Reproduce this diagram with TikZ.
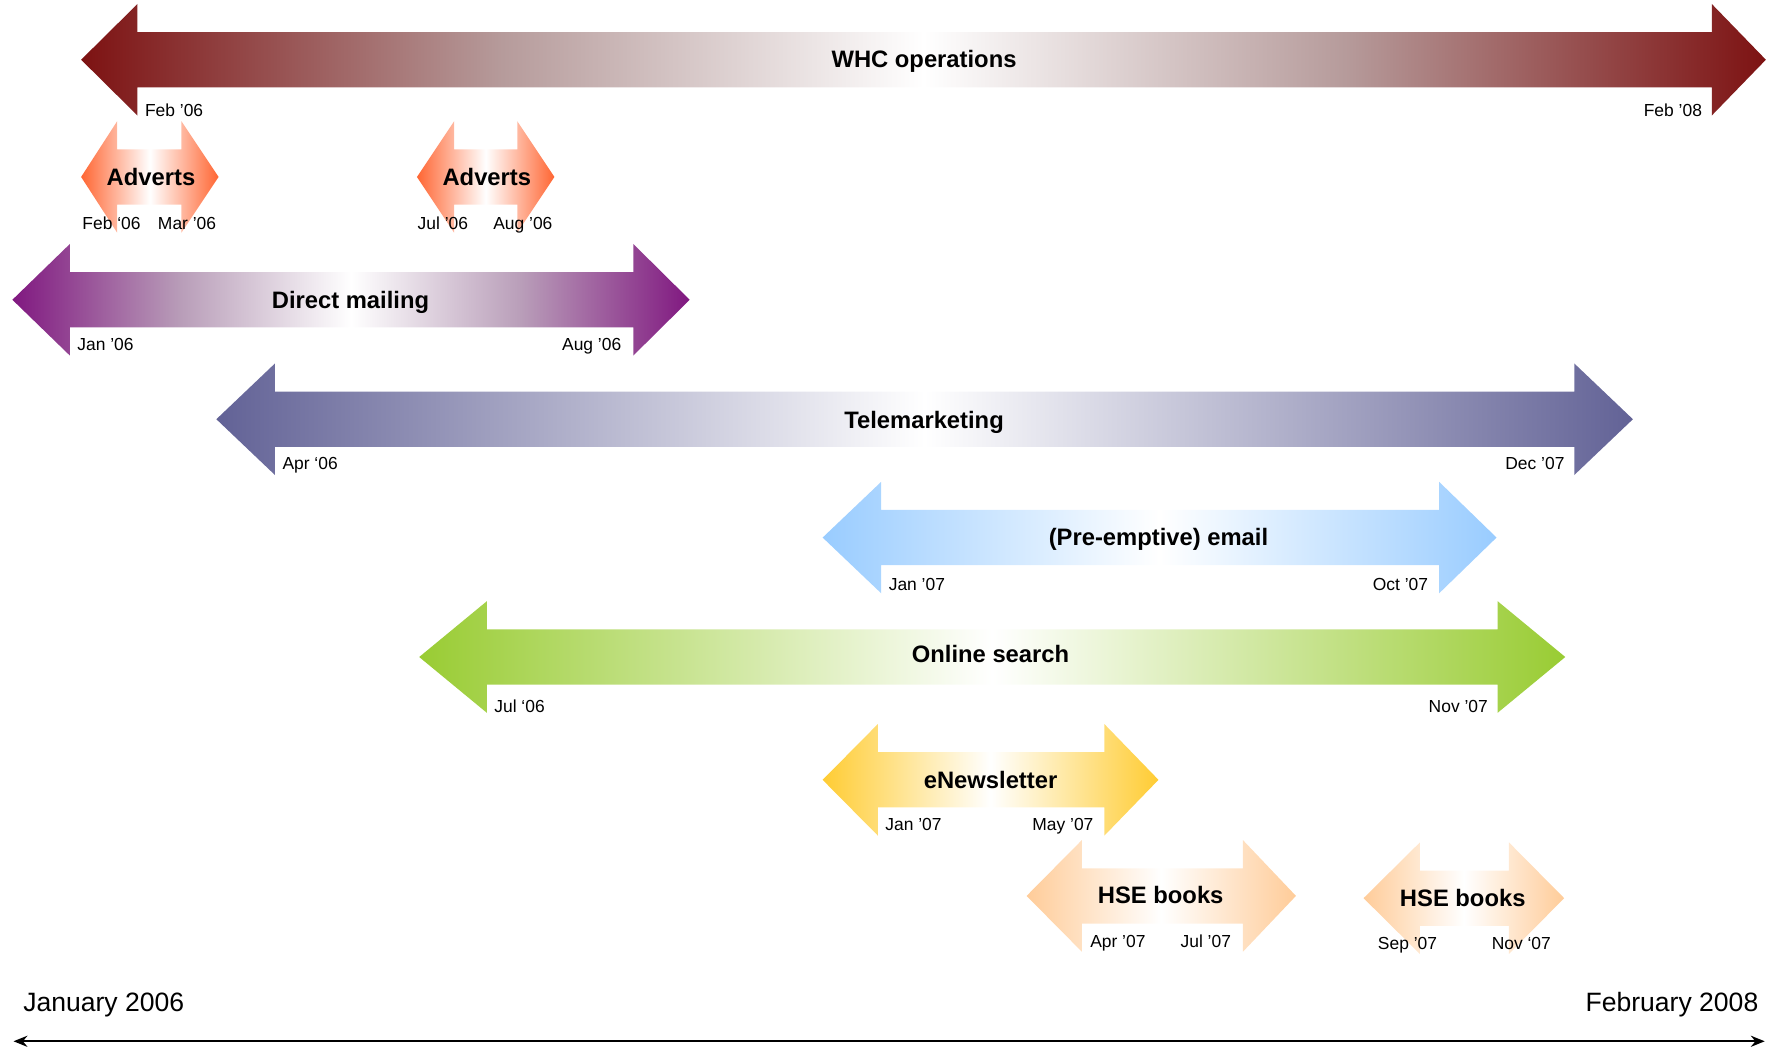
\documentclass[tikz,border=0pt]{standalone}
\usepackage{fontspec}
\setmainfont{Liberation Sans}
\usetikzlibrary{arrows.meta}

\definecolor{whcred}{RGB}{125,18,18}
\definecolor{whcmid}{RGB}{182,155,155}
\definecolor{advorange}{RGB}{255,102,51}
\definecolor{mailpurple}{RGB}{128,24,128}
\definecolor{mailmid}{RGB}{185,158,185}
\definecolor{telblue}{RGB}{98,98,150}
\definecolor{mailblue}{RGB}{153,204,255}
\definecolor{searchgreen}{RGB}{153,204,51}
\definecolor{newsgold}{RGB}{255,204,51}
\definecolor{bookpeach}{RGB}{255,204,153}

% #1 colour, #2 colour half way to the middle,
% #3..#6 left tip, left base, right base, right tip, #7 centre line
\newcommand{\spanarrow}[7]{%
  \pgfdeclarehorizontalshading{span-#1}{100bp}{color(0bp)=(#1); color(25bp)=(#1);
    color(37.5bp)=(#2); color(50bp)=(white); color(62.5bp)=(#2); color(75bp)=(#1); color(100bp)=(#1)}%
  \shade[shading=span-#1]
    (#3,#7) -- (#4,#7-49.5) -- (#4,#7-24.5) -- (#5,#7-24.5) -- (#5,#7-49.5) -- (#6,#7)
    -- (#5,#7+49.5) -- (#5,#7+24.5) -- (#4,#7+24.5) -- (#4,#7+49.5) -- cycle;}

\tikzset{
  title/.style={font=\fontsize{6}{7}\selectfont\bfseries, inner sep=0pt, text height=0.73em, text depth=0.22em},
  date/.style={font=\fontsize{4.4}{5}\selectfont, inner sep=0pt, text height=0.73em, text depth=0.22em},
  year/.style={font=\fontsize{6.7}{8}\selectfont, inner sep=0pt, text height=0.73em, text depth=0.22em}
}

\begin{document}
\begin{tikzpicture}[x=0.01cm, y=-0.01cm]
      \useasboundingbox (0,0) rectangle (1568,932);
      \spanarrow{whcred}{whcmid}{72}{122}{1519}{1567}{53}
      \spanarrow{advorange}{advorange!50!white}{72}{104}{161}{194}{157}
      \spanarrow{advorange}{advorange!50!white}{370}{403}{459}{492}{157}
      \spanarrow{mailpurple}{mailmid}{11}{62}{562}{612}{266}
      \spanarrow{telblue}{telblue!50!white}{192}{244}{1397}{1449}{372}
      \spanarrow{mailblue}{mailblue!50!white}{730}{782}{1277}{1328}{477}
      \spanarrow{searchgreen}{searchgreen!50!white}{372}{432}{1329}{1389}{583}
      \spanarrow{newsgold}{newsgold!50!white}{730}{779}{980}{1028}{692}
      \spanarrow{bookpeach}{bookpeach!50!white}{911}{960}{1103}{1150}{795}
      \spanarrow{bookpeach}{bookpeach!50!white}{1210}{1260}{1339}{1388}{797}
      % campaign names
      \node[title] (whc) at (820,51) {WHC operations};
      \node[title] (adv1) at (134,156) {Adverts};
      \node[title] (adv2) at (432,156) {Adverts};
      \node[title] (mail) at (311,265) {Direct mailing};
      \node[title] (tele) at (820,371) {Telemarketing};
      \node[title] (email) at (1028,475) {(Pre-emptive) email};
      \node[title] (search) at (879,579) {Online search};
      \node[title] (news) at (879,691) {eNewsletter};
      \node[title] (books1) at (1030,793) {HSE books};
      \node[title] (books2) at (1298,795) {HSE books};
      % start and end dates
      \node[date, anchor=west] (whc-s) at (128,94) {Feb '06};
      \node[date, anchor=east] (whc-e) at (1511,94) {Feb '08};
      \node[date] (adv1-s) at (99,195) {Feb `06};
      \node[date] (adv1-e) at (166,195) {Mar '06};
      \node[date] (adv2-s) at (393,195) {Jul '06};
      \node[date] (adv2-e) at (464,195) {Aug '06};
      \node[date, anchor=west] (mail-s) at (68,302) {Jan '06};
      \node[date, anchor=east] (mail-e) at (552,302) {Aug '06};
      \node[date, anchor=west] (tele-s) at (250,408) {Apr `06};
      \node[date, anchor=east] (tele-e) at (1389,408) {Dec '07};
      \node[date, anchor=west] (email-s) at (788,515) {Jan '07};
      \node[date, anchor=east] (email-e) at (1268,515) {Oct '07};
      \node[date, anchor=west] (search-s) at (438,623) {Jul `06};
      \node[date, anchor=east] (search-e) at (1321,623) {Nov '07};
      \node[date, anchor=west] (news-s) at (785,728) {Jan '07};
      \node[date, anchor=east] (news-e) at (971,728) {May '07};
      \node[date] (books1-s) at (992,832) {Apr '07};
      \node[date] (books1-e) at (1070,832) {Jul '07};
      \node[date] (books2-s) at (1249,834) {Sep '07};
      \node[date] (books2-e) at (1350,834) {Nov `07};
      % time axis
      \node[year, anchor=west] (from) at (20,889) {January 2006};
      \node[year, anchor=east] (to) at (1561,889) {February 2008};
      \coordinate (axis-l) at (12,924);
      \coordinate (axis-r) at (1566,924);
      \draw[line width=0.5pt, {Stealth[length=3.5pt,width=2.8pt]}-{Stealth[length=3.5pt,width=2.8pt]}] (axis-l) -- (axis-r);
    \end{tikzpicture}
\end{document}
